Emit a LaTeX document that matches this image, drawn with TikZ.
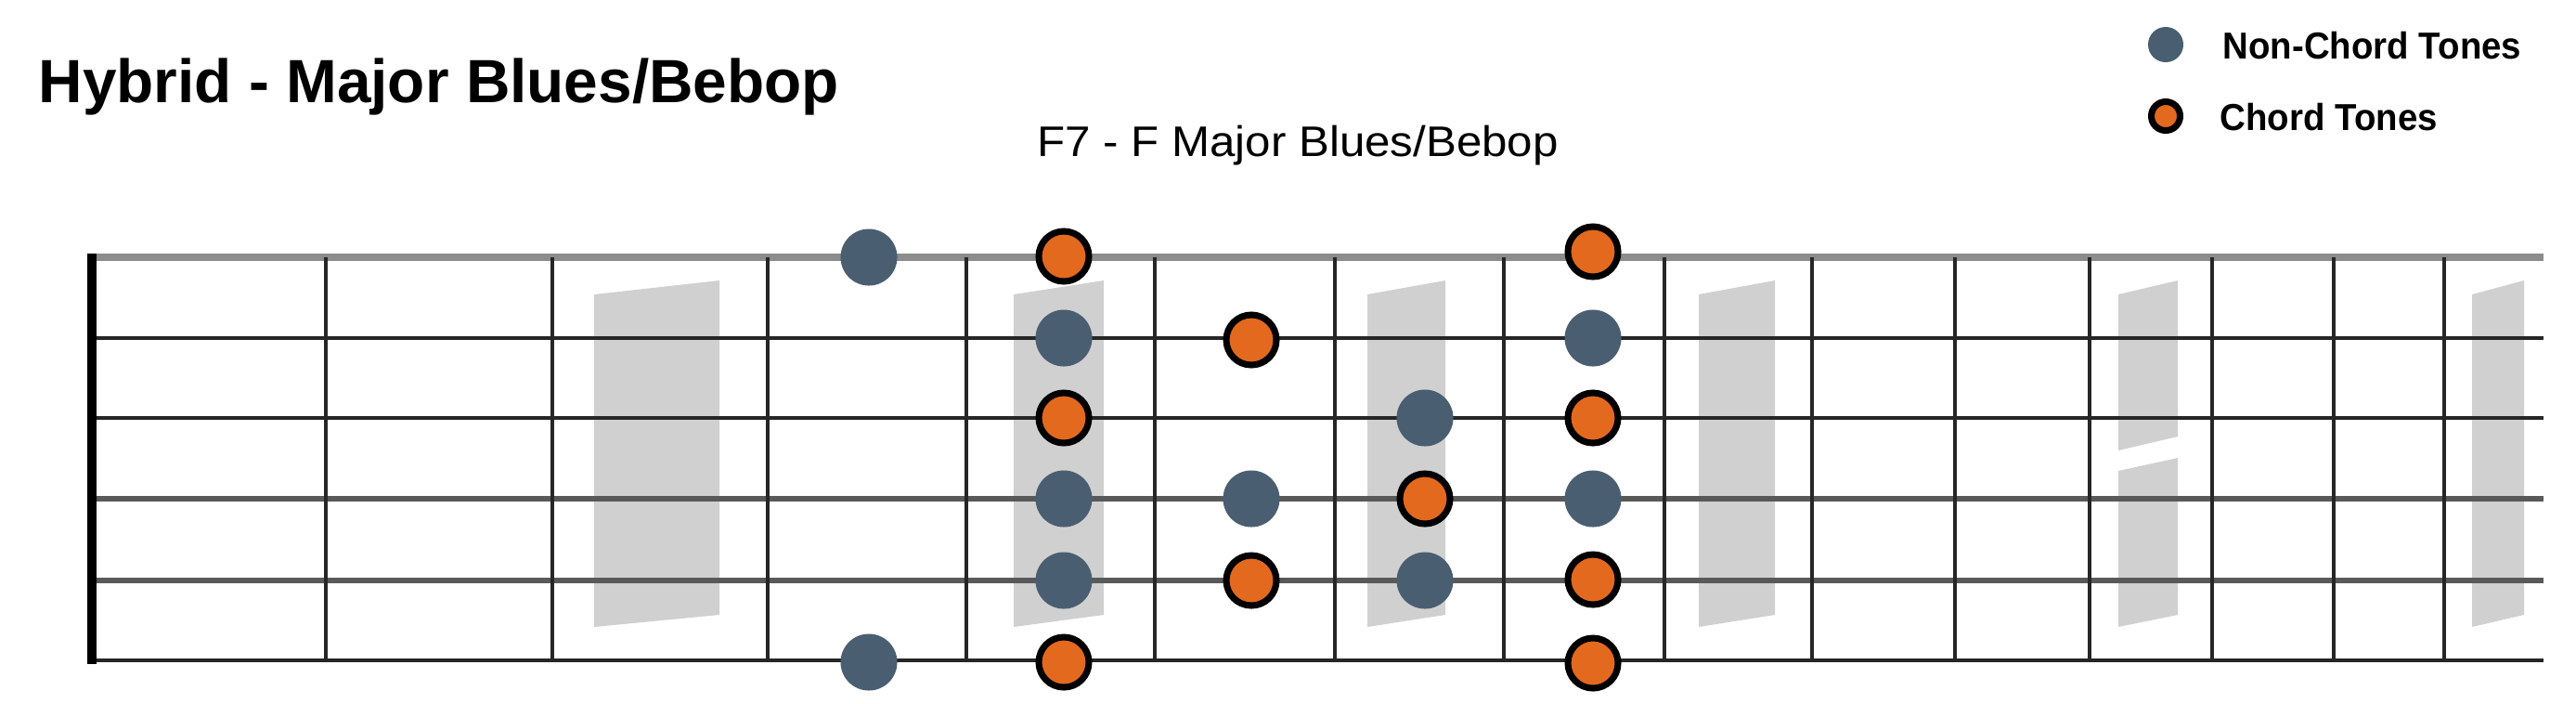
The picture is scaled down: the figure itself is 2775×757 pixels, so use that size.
\documentclass[tikz,border=0pt]{standalone}
\usepackage{fontspec}
\setmainfont{Liberation Sans}
\definecolor{nctc}{HTML}{4A5E72}
\definecolor{ctc}{HTML}{E2691E}
\definecolor{inl}{HTML}{D0D0D0}
\begin{document}
\begin{tikzpicture}[x=0.01cm,y=-0.01cm,
  nct/.style={circle,fill=nctc,minimum size=0.61cm,inner sep=0pt},
  ct/.style={circle,fill=ctc,draw=black,line width=0.07cm,minimum size=0.54cm,inner sep=0pt},
  lnct/.style={circle,fill=nctc,minimum size=0.38cm,inner sep=0pt},
  lct/.style={circle,fill=ctc,draw=black,line width=0.07cm,minimum size=0.31cm,inner sep=0pt},
  inlay/.style={fill=inl},
  fretline/.style={line width=0.045cm,color=black!85},
  thinstr/.style={line width=0.045cm,color=black!85},
  midstr/.style={line width=0.065cm,color=black!65},
  topstr/.style={line width=0.08cm,color=black!45},
  txt/.style={inner sep=0pt,anchor=base west}]
\useasboundingbox[fill=white] (0,0) rectangle (2775,757);
% titles
\node[txt] (title) at (41,110) {\fontsize{18.7pt}{22pt}\selectfont\bfseries Hybrid - Major Blues/Bebop};
\node[inner sep=0pt,anchor=base,xscale=1.07] (sub) at (1398,168) {\fontsize{13.1pt}{16pt}\selectfont F7 - F Major Blues/Bebop};
% legend
\node[lnct] (lg1) at (2333,48) {};
\node[lct] (lg2) at (2333,125) {};
\node[txt,xscale=0.95] (lt1) at (2394,63) {\fontsize{11.5pt}{14pt}\selectfont\bfseries Non-Chord Tones};
\node[txt,xscale=0.95] (lt2) at (2391,140) {\fontsize{11.5pt}{14pt}\selectfont\bfseries Chord Tones};
% inlays
\foreach \a/\b in {640/775,1092/1189,1473/1557,1830/1912,2663/2719}
  \fill[inlay] (\a,317) -- (\b,302) -- (\b,662) -- (\a,675) -- cycle;
\fill[inlay] (2282,317) -- (2346,302) -- (2346,470) -- (2282,485) -- cycle;
\fill[inlay] (2282,507) -- (2346,493) -- (2346,662) -- (2282,675) -- cycle;
% strings
\draw[topstr] (99,277) -- (2740,277);
\draw[thinstr] (99,364) -- (2740,364);
\draw[thinstr] (99,450) -- (2740,450);
\draw[midstr] (99,537) -- (2740,537);
\draw[midstr] (99,625) -- (2740,625);
\draw[thinstr] (99,711) -- (2740,711);
% frets
\foreach \x in {351,595,827,1041,1244,1438,1620,1793,1952,2106,2251,2383,2514,2633}
  \draw[fretline] (\x,277) -- (\x,711);
% nut
\draw[line width=0.1cm,color=black] (99,273) -- (99,715);
% dots
\node[nct] (a1) at (936,277) {};
\node[nct] (a6) at (936,713) {};
\node[ct] (b1) at (1146,276) {};
\node[nct] (b2) at (1146,364) {};
\node[ct] (b3) at (1146,450) {};
\node[nct] (b4) at (1146,537) {};
\node[nct] (b5) at (1146,625) {};
\node[ct] (b6) at (1146,713) {};
\node[ct] (c2) at (1348,366) {};
\node[nct] (c4) at (1348,537) {};
\node[ct] (c5) at (1348,625) {};
\node[nct] (d3) at (1535,450) {};
\node[ct] (d4) at (1535,537) {};
\node[nct] (d5) at (1535,625) {};
\node[ct] (e1) at (1716,271) {};
\node[nct] (e2) at (1716,364) {};
\node[ct] (e3) at (1716,450) {};
\node[nct] (e4) at (1716,537) {};
\node[ct] (e5) at (1716,624) {};
\node[ct] (e6) at (1716,714) {};
\end{tikzpicture}
\end{document}
